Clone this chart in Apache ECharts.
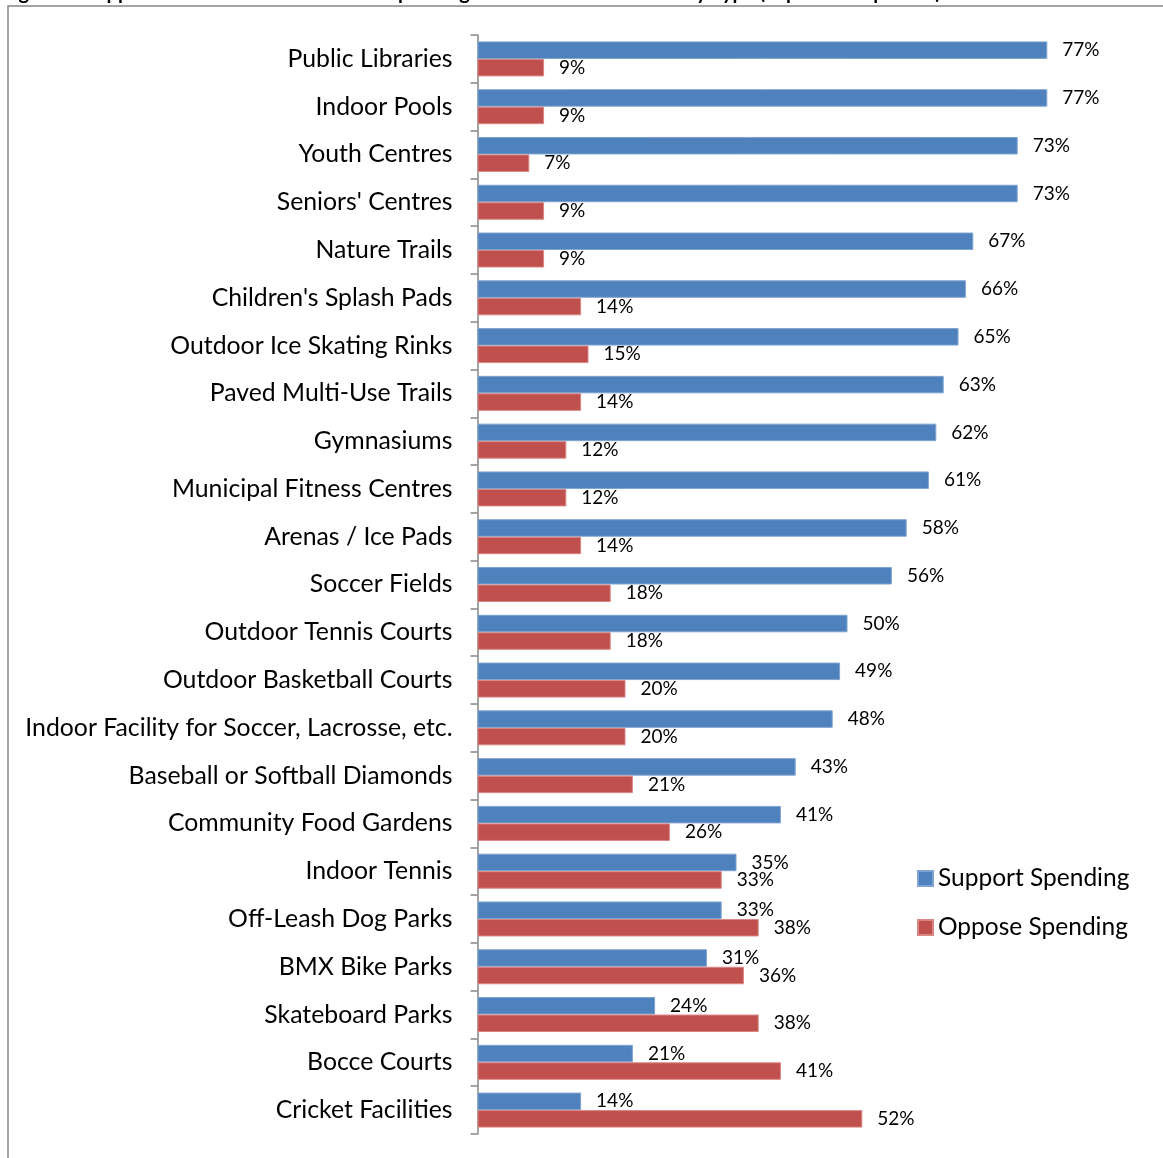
<!DOCTYPE html>
<html>
<head>
<meta charset="utf-8">
<title>Support and Oppose Spending by Facility Type</title>
<script src="https://cdn.jsdelivr.net/npm/echarts@6/dist/echarts.min.js"></script>
<style>
  html, body { margin: 0; padding: 0; background: #ffffff; }
  #chart { width: 1163px; height: 1158px; }
</style>
</head>
<body>
<div id="chart"></div>
<script>
// Facility types, listed top to bottom
const categories = [
  'Public Libraries',
  'Indoor Pools',
  'Youth Centres',
  "Seniors' Centres",
  'Nature Trails',
  "Children's Splash Pads",
  'Outdoor Ice Skating Rinks',
  'Paved Multi-Use Trails',
  'Gymnasiums',
  'Municipal Fitness Centres',
  'Arenas / Ice Pads',
  'Soccer Fields',
  'Outdoor Tennis Courts',
  'Outdoor Basketball Courts',
  'Indoor Facility for Soccer, Lacrosse, etc.',
  'Baseball or Softball Diamonds',
  'Community Food Gardens',
  'Indoor Tennis',
  'Off-Leash Dog Parks',
  'BMX Bike Parks',
  'Skateboard Parks',
  'Bocce Courts',
  'Cricket Facilities'
];

// Percent of respondents
const supportSpending = [77, 77, 73, 73, 67, 66, 65, 63, 62, 61, 58, 56, 50, 49, 48, 43, 41, 35, 33, 31, 24, 21, 14];
const opposeSpending  = [9, 9, 7, 9, 9, 14, 15, 14, 12, 12, 14, 18, 18, 20, 20, 21, 26, 33, 38, 36, 38, 41, 52];

const seriesNames = ['Support Spending', 'Oppose Spending'];
const titleText = 'Figure 9: Support for Increased or Reduced Spending on Recreation Facilities by Type (Top Box Responses)';

const FONT = 'Lato, "Open Sans", sans-serif';

const chart = echarts.init(document.getElementById('chart'), null, { renderer: 'canvas' });

const labelStyle = {
  show: true,
  position: 'right',
  distance: 15,
  formatter: '{c}%',
  color: '#000000',
  fontFamily: FONT,
  fontSize: 19
};

chart.setOption({
  backgroundColor: '#ffffff',
  animation: false,
  graphic: [
    {
      type: 'rect',
      silent: true,
      shape: { x: 8, y: 6, width: 1400, height: 1400 },
      style: { fill: 'none', stroke: '#868686', lineWidth: 1.5 }
    },
    {
      type: 'text',
      silent: true,
      style: {
        x: 2,
        y: -7,
        text: titleText,
        font: 'bold 20px ' + FONT,
        fill: '#000000',
        verticalAlign: 'middle'
      }
    }
  ],
  legend: {
    orient: 'vertical',
    left: 917,
    top: 866,
    padding: 0,
    itemWidth: 15,
    itemHeight: 15,
    itemGap: 24,
    icon: 'rect',
    data: seriesNames,
    textStyle: { color: '#000000', fontFamily: FONT, fontSize: 24.5 }
  },
  grid: {
    left: 477.5,
    right: 93.5,
    top: 35,
    bottom: 24,
    containLabel: false
  },
  xAxis: {
    type: 'value',
    min: 0,
    max: 80,
    show: false
  },
  yAxis: {
    type: 'category',
    inverse: true,
    data: categories,
    axisLine: { show: true, lineStyle: { color: '#868686', width: 1.5 } },
    axisTick: { show: true, length: 7, lineStyle: { color: '#868686', width: 1.5 } },
    axisLabel: {
      color: '#000000',
      fontFamily: FONT,
      fontSize: 24.8,
      margin: 25
    },
    splitLine: { show: false }
  },
  series: [
    {
      name: seriesNames[0],
      type: 'bar',
      data: supportSpending,
      barWidth: 17.5,
      barGap: '0%',
      itemStyle: { color: '#4F81BD', borderColor: '#7FA3D0', borderWidth: 1 },
      label: labelStyle
    },
    {
      name: seriesNames[1],
      type: 'bar',
      data: opposeSpending,
      barWidth: 17.5,
      barGap: '0%',
      itemStyle: { color: '#C0504D', borderColor: '#D98583', borderWidth: 1 },
      label: labelStyle
    }
  ]
});
</script>
</body>
</html>
